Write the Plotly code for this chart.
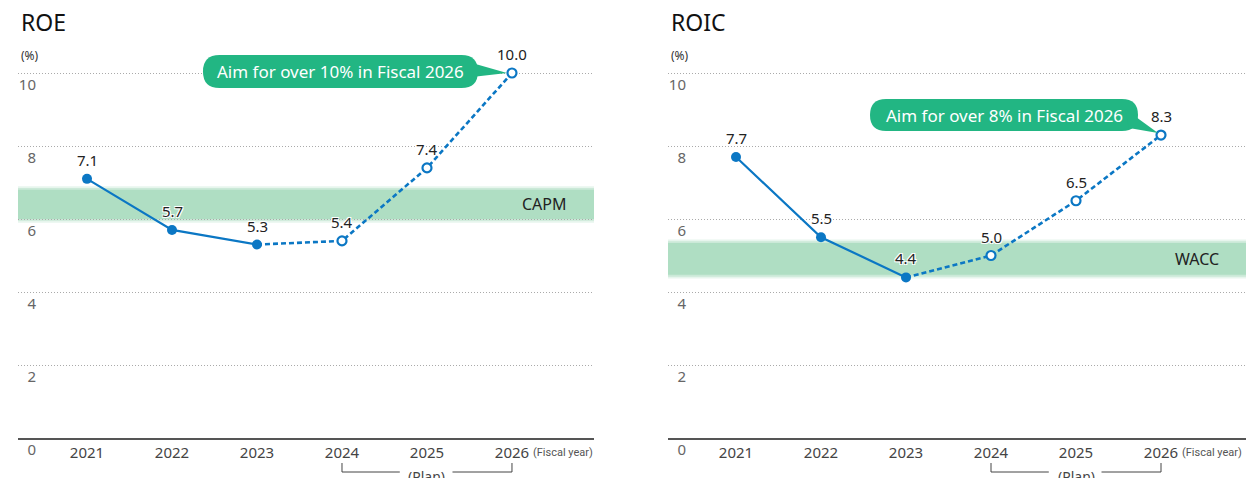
import plotly.graph_objects as go

# ---------------- data ----------------
years = [2021, 2022, 2023, 2024, 2025, 2026]
year_labels = ["2021", "2022", "2023", "2024", "2025", "2026"]
roe = [7.1, 5.7, 5.3, 5.4, 7.4, 10.0]
roic = [7.7, 5.5, 4.4, 5.0, 6.5, 8.3]
n_actual = 3                      # 2021-2023 actual, 2024-2026 plan
capm_band = [6.0, 6.8]
wacc_band = [4.47, 5.34]
y_ticks = [0, 2, 4, 6, 8, 10]
y_tick_labels = ["0", "2", "4", "6", "8", "10"]
titles = ["ROE", "ROIC"]
band_names = ["CAPM", "WACC"]
targets = ["Aim for over 10% in Fiscal 2026", "Aim for over 8% in Fiscal 2026"]

# ---------------- style ----------------
W, H = 1246, 478
BLUE = "#0b77c4"
GREEN = "#22b683"
BAND = "#afdec3"
FONT = "Noto Sans"


def fx(px):
    return px / W


def fy(py):
    return 1 - py / H


fig = go.Figure()

panels = [
    dict(vals=roe, band=capm_band, title=titles[0], band_name=band_names[0], target=targets[0],
         xs="", dom=(18, 594), rng=(2020.188, 2026.965), ypos=36,
         box=(-309, -34, 18, -15), wedge=[(-40, 10), (-40, -4), (-5, 0)]),
    dict(vals=roic, band=wacc_band, title=titles[1], band_name=band_names[1], target=targets[1],
         xs="2", dom=(668, 1246), rng=(2020.2, 2027.0), ypos=686,
         box=(-291, -23, 36, 4), wedge=[(-36, 26), (-32, 7), (-3, 2)]),
]

shapes = []
annotations = []
layout_axes = {}

for p in panels:
    xs = p["xs"]
    xa, ya = "x" + xs, "y" + xs
    vals = p["vals"]

    # solid actual line
    fig.add_trace(go.Scatter(x=years[:n_actual], y=vals[:n_actual], mode="lines",
                             line=dict(color=BLUE, width=2.2), xaxis=xa, yaxis=ya,
                             hoverinfo="skip", showlegend=False))
    # dashed plan line
    fig.add_trace(go.Scatter(x=years[n_actual - 1:], y=vals[n_actual - 1:], mode="lines",
                             line=dict(color=BLUE, width=2.6, dash="5px,3px"), xaxis=xa, yaxis=ya,
                             hoverinfo="skip", showlegend=False))
    # actual markers (filled)
    fig.add_trace(go.Scatter(x=years[:n_actual], y=vals[:n_actual], mode="markers",
                             marker=dict(color=BLUE, size=10), xaxis=xa, yaxis=ya,
                             showlegend=False))
    # plan markers (hollow)
    fig.add_trace(go.Scatter(x=years[n_actual:], y=vals[n_actual:], mode="markers",
                             marker=dict(color="white", size=9, line=dict(color=BLUE, width=2.2)),
                             xaxis=xa, yaxis=ya, showlegend=False))

    # axes
    layout_axes["xaxis" + xs] = dict(
        domain=[fx(p["dom"][0]), fx(p["dom"][1])], range=list(p["rng"]),
        tickvals=years, ticktext=year_labels, ticks="", showgrid=False, zeroline=False,
        showline=True, linecolor="#555555", linewidth=1.5, automargin=False,
        tickfont=dict(family=FONT, size=15, color="#444444"),
        anchor=ya, fixedrange=True)
    layout_axes["yaxis" + xs] = dict(
        domain=[fy(438), fy(438 - 11 * 36.5)], range=[0, 11],
        tickvals=y_ticks, ticktext=y_tick_labels, ticks="", automargin=False,
        showgrid=True, gridcolor="#aaaaaa", gridwidth=1, griddash="1px,2px",
        zeroline=False, showline=False, anchor="free", position=fx(p["ypos"]),
        ticklabelshift=12, tickfont=dict(family=FONT, size=15, color="#666666"),
        fixedrange=True)

    # band (soft edges)
    lo, hi = p["band"]
    for pad, op in [(0.1, 0.3), (0.05, 0.5), (0.0, 1.0)]:
        shapes.append(dict(type="rect", xref=xa + " domain", yref=ya, x0=0, x1=1,
                           y0=lo - pad, y1=hi + pad, fillcolor=BAND, opacity=op,
                           line=dict(width=0), layer="below"))
    annotations.append(dict(xref=xa + " domain", yref=ya, x=1, y=(lo + hi) / 2,
                            xanchor="right", yanchor="middle", xshift=-25, showarrow=False,
                            text=p["band_name"], font=dict(family=FONT, size=16, color="#222222")))

    # data labels
    for xv, yv in zip(years, vals):
        annotations.append(dict(xref=xa, yref=ya, x=xv, y=yv, yshift=19, showarrow=False,
                                text=f"{yv:.1f}", xanchor="center", yanchor="middle",
                                font=dict(family=FONT, size=15, color="#222222",
                                          shadow="1px 1px 0 #fff, -1px -1px 0 #fff, 1px -1px 0 #fff, -1px 1px 0 #fff")))

    # callout
    x0, x1, top, bot = p["box"]
    r = (top - bot) / 2
    path = (f"M{x0 + r},{top} L{x1 - r},{top} Q{x1},{top} {x1},{top - r} "
            f"Q{x1},{bot} {x1 - r},{bot} L{x0 + r},{bot} Q{x0},{bot} {x0},{bot + r} "
            f"Q{x0},{top} {x0 + r},{top} Z")
    shapes.append(dict(type="path", xref=xa, yref=ya, xsizemode="pixel", ysizemode="pixel",
                       xanchor=years[-1], yanchor=vals[-1], path=path, fillcolor=GREEN,
                       line=dict(width=0), layer="above"))
    w = p["wedge"]
    wpath = f"M{w[0][0]},{w[0][1]} L{w[2][0]},{w[2][1]} L{w[1][0]},{w[1][1]} Z"
    shapes.append(dict(type="path", xref=xa, yref=ya, xsizemode="pixel", ysizemode="pixel",
                       xanchor=years[-1], yanchor=vals[-1], path=wpath, fillcolor=GREEN,
                       line=dict(width=0), layer="above"))
    annotations.append(dict(xref=xa, yref=ya, x=years[-1], y=vals[-1],
                            xshift=(x0 + x1) / 2, yshift=(top + bot) / 2, showarrow=False,
                            text=p["target"], xanchor="center", yanchor="middle",
                            font=dict(family=FONT, size=17, color="white")))

    # titles
    annotations.append(dict(xref="paper", yref="paper", x=fx(p["dom"][0] + 1), y=fy(22),
                            xanchor="left", yanchor="middle", showarrow=False, text=p["title"],
                            font=dict(family=FONT, size=23, color="#111111")))
    annotations.append(dict(xref="paper", yref="paper", x=fx(p["dom"][0] + 1), y=fy(56),
                            xanchor="left", yanchor="middle", showarrow=False, text="(%)",
                            font=dict(family=FONT, size=12, color="#333333")))

    # fiscal year note
    annotations.append(dict(xref=xa, yref="paper", x=years[-1], y=fy(452), xshift=19,
                            xanchor="left", yanchor="middle", showarrow=False, text="(Fiscal year)",
                            font=dict(family="Liberation Sans Narrow, Roboto", size=11,
                                      color="#555555")))

    # plan bracket
    first_plan, last_plan = years[n_actual], years[-1]
    mid_plan = years[n_actual + 1]
    bk = dict(color="#444444", width=1)
    shapes.append(dict(type="line", xref=xa, yref="paper", x0=first_plan, x1=first_plan,
                       y0=fy(463), y1=fy(472), line=bk))
    shapes.append(dict(type="line", xref=xa, yref="paper", x0=last_plan, x1=last_plan,
                       y0=fy(463), y1=fy(472), line=bk))
    shapes.append(dict(type="line", xref=xa, yref="paper", x0=first_plan, x1=mid_plan - 0.32,
                       y0=fy(472), y1=fy(472), line=bk))
    shapes.append(dict(type="line", xref=xa, yref="paper", x0=mid_plan + 0.3, x1=last_plan,
                       y0=fy(472), y1=fy(472), line=bk))
    annotations.append(dict(xref=xa, yref="paper", x=mid_plan, y=fy(465), xanchor="center",
                            yanchor="top", showarrow=False, text="(Plan)",
                            font=dict(family=FONT, size=14, color="#444444")))

fig.update_layout(
    width=W, height=H, margin=dict(l=0, r=0, t=0, b=0, autoexpand=False),
    paper_bgcolor="white", plot_bgcolor="white",
    font=dict(family=FONT), showlegend=False,
    shapes=shapes, annotations=annotations, **layout_axes)

fig.write_html("out.html")
